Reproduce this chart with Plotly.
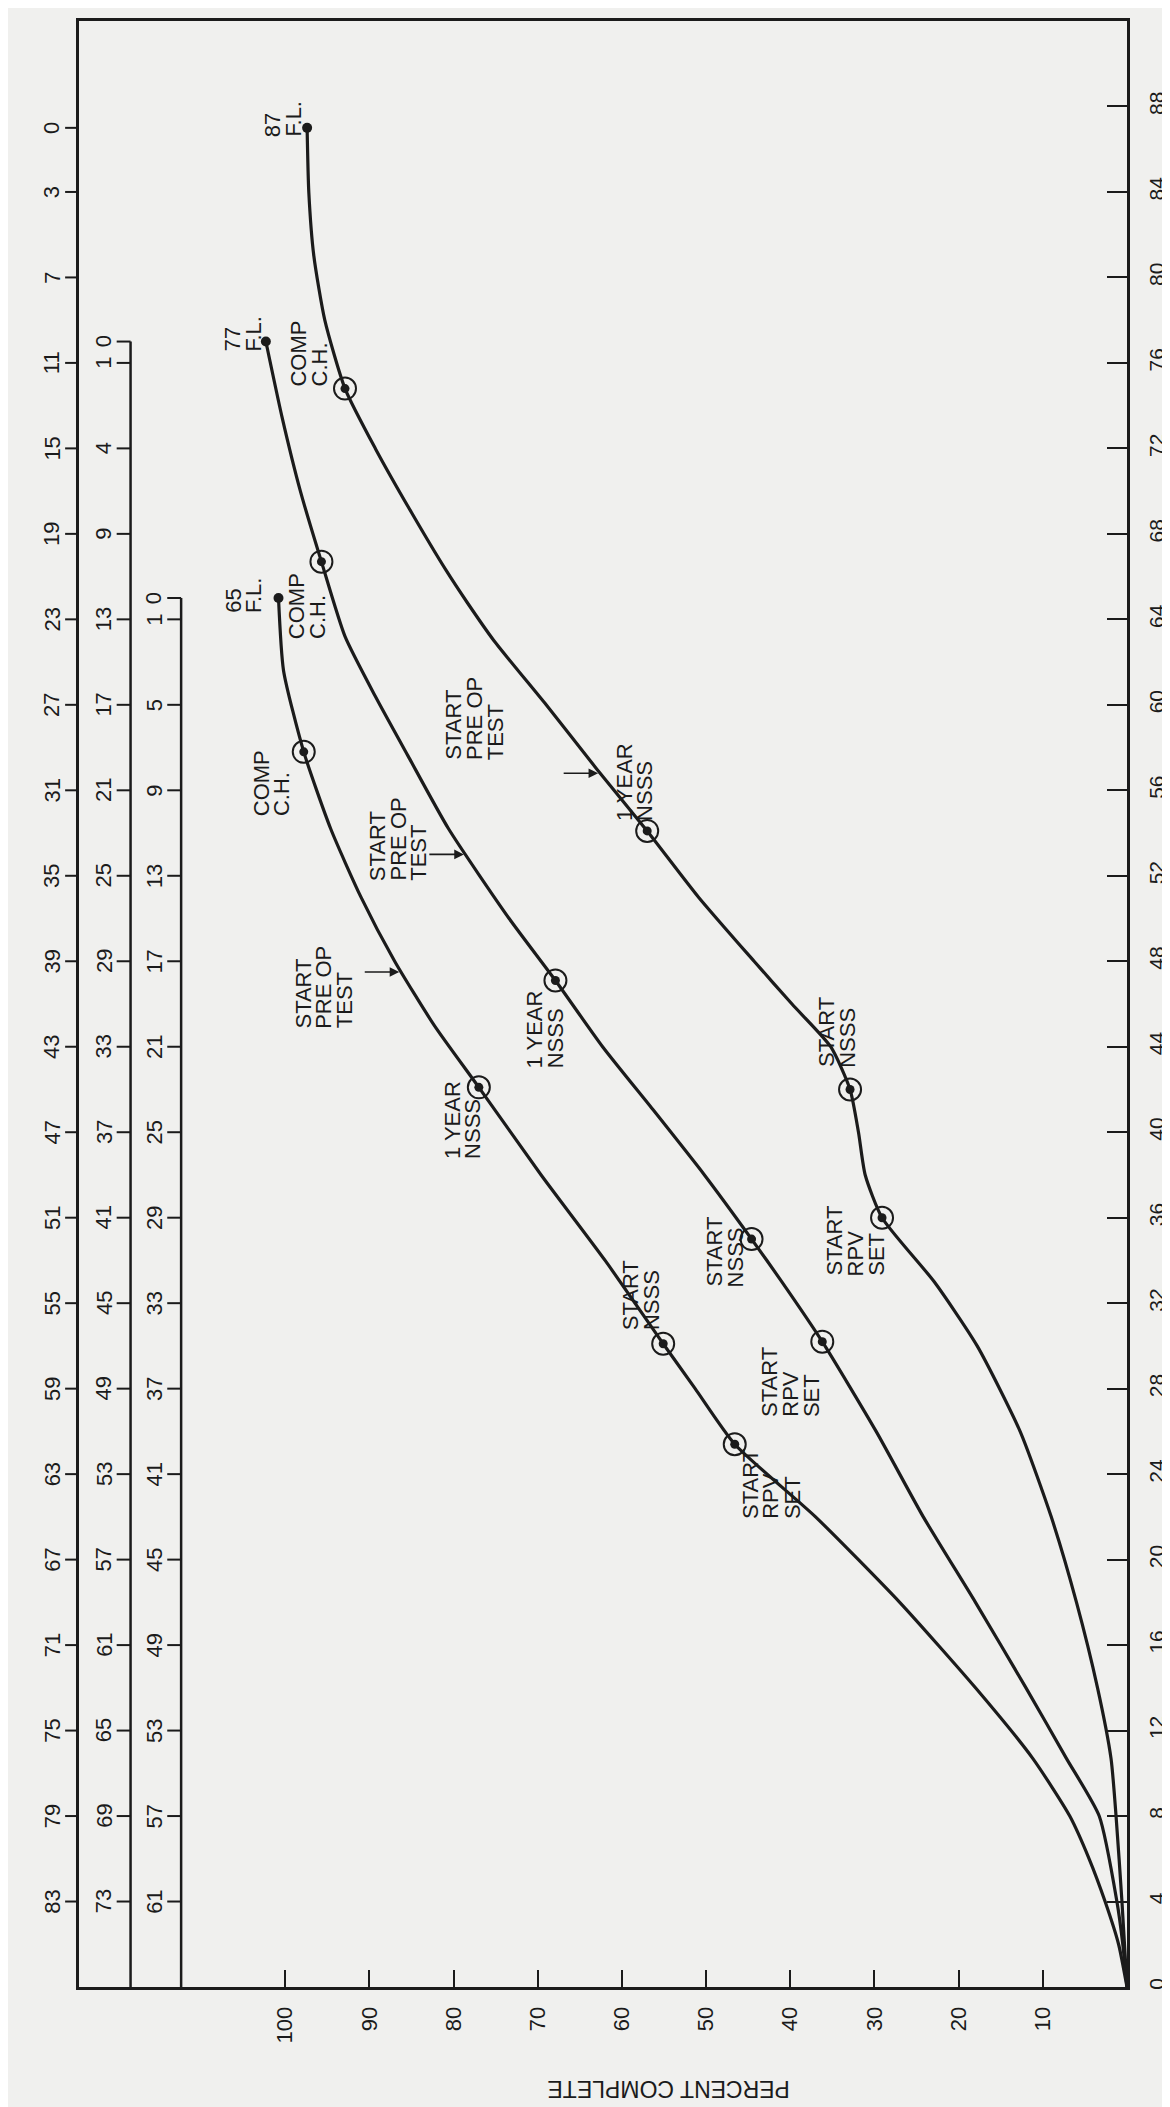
import numpy as np
import plotly.graph_objects as go

# ---------------- data ----------------
month_ticks = list(range(0, 89, 4))
pct_ticks = list(range(10, 101, 10))

# Curve for 65-month fuel load
a_month = [0, 2, 4, 6, 8, 10.7, 14, 18, 22, 25.4, 28, 30.1, 34, 38, 42.1, 45, 48, 51, 54.2, 57.8, 61.6, 65]
a_pct = [0, 1.0, 2.6, 4.5, 6.8, 11.2, 18, 27, 37, 46.6, 51.3, 55.1, 62, 69.6, 77, 82.3, 87, 91, 94.6, 97.8, 100.2, 100.8]
# Curve for 77-month fuel load
b_month = [0, 2, 4, 8, 10.7, 14, 18, 22, 26, 30.2, 33, 35, 38, 41, 44, 47.1, 50, 54.2, 57.6, 60.4, 63.2, 66.7, 70, 73.5, 77]
b_pct = [0, 0.5, 1.2, 3.3, 7.2, 12, 18, 24.2, 29.8, 36.2, 41, 44.6, 50.2, 56.2, 62.3, 67.9, 73.4, 80.6, 85.4, 89.3, 92.9, 95.7, 98.2, 100.4, 102.3]
# Curve for 87-month fuel load
c_month = [0, 4, 8, 10.7, 14, 18, 22, 26, 30, 33, 36, 38, 40, 42, 44, 46, 48, 51, 54.1, 57, 60, 63, 64.8, 66.3, 69, 72, 74.8, 78, 81, 84, 87]
c_pct = [0, 0.6, 1.3, 1.9, 3.5, 6, 9, 12.7, 17.8, 22.9, 29.1, 31.1, 31.9, 32.9, 35.2, 39.8, 44.3, 50.9, 57, 63, 69, 75.2, 78.4, 80.9, 85, 89.3, 92.9, 95.3, 96.6, 97.2, 97.4]

# milestones (months): RPV set, start NSSS, 1 year NSSS, comp C.H.
a_miles = [25.4, 30.1, 42.1, 57.8]
b_miles = [30.2, 35.0, 47.1, 66.7]
c_miles = [36.0, 42.0, 54.1, 74.8]
# "start pre-op test" arrow months
arrow_months = [47.5, 53.0, 56.8]

# months-to-fuel-load scales (left side)
col1_months = list(range(4, 85, 4)) + [87]
col1_labels = [str(87 - m) for m in range(4, 85, 4)] + ["0"]
col2_months = list(range(4, 73, 4)) + [76, 77]
col2_labels = [str(77 - m) for m in range(4, 69, 4)] + ["4", "1", "0"]
col3_months = list(range(4, 61, 4)) + [64, 65]
col3_labels = [str(65 - m) for m in range(4, 61, 4)] + ["1", "0"]

# ---------------- layout geometry ----------------
W, H = 1170, 2107
L, R, T, B = 71, 42, 10, 128
XMAX, YMAX = 124.5, 92.0
PW, PH = W - L - R, H - T - B


def px_x(xpx):
    return XMAX * (L + PW - xpx) / PW


def px_y(ypx):
    return YMAX * (T + PH - ypx) / PH


def paper_x(xpx):
    return (xpx - L) / PW


def paper_y(ypx):
    return (T + PH - ypx) / PH


INK = "#1b1b1b"
FONT = "Liberation Sans, Arial, sans-serif"

fig = go.Figure()

for mo, pc in [(a_month, a_pct), (b_month, b_pct), (c_month, c_pct)]:
    fig.add_trace(go.Scatter(x=pc, y=mo, mode="lines",
                             line=dict(color=INK, width=3.2, shape="spline", smoothing=0.6),
                             hoverinfo="skip", showlegend=False))
    fig.add_trace(go.Scatter(x=[pc[-1]], y=[mo[-1]], mode="markers",
                             marker=dict(color=INK, size=10), showlegend=False))

for mi, mo, pc in [(a_miles, a_month, a_pct), (b_miles, b_month, b_pct), (c_miles, c_month, c_pct)]:
    px = np.interp(mi, mo, pc)
    fig.add_trace(go.Scatter(x=px, y=mi, mode="markers",
                             marker=dict(symbol="circle-open", color=INK, size=22, line=dict(width=2, color=INK)),
                             showlegend=False))
    fig.add_trace(go.Scatter(x=px, y=mi, mode="markers",
                             marker=dict(color=INK, size=9), showlegend=False))

annotations = []


def label(lines, xpx, ybottom, pitch=21, size=22):
    for i, t in enumerate(lines):
        annotations.append(dict(text=t, x=px_x(xpx + i * pitch), y=px_y(ybottom), xref="x", yref="y",
                                showarrow=False, textangle=-90, xanchor="center", yanchor="bottom",
                                font=dict(size=size, color=INK, family=FONT)))


# curve A labels
label(["65", "F.L."], 226, 605)
label(["COMP", "C.H."], 255, 808)
label(["START", "PRE OP", "TEST"], 297, 1021)
label(["1 YEAR", "NSSS"], 447, 1152)
label(["START", "NSSS"], 627, 1323)
label(["START", "RPV", "SET"], 748, 1512)
# curve B labels
label(["77", "F.L."], 226, 343)
label(["COMP", "C.H."], 290, 631)
label(["START", "PRE OP", "TEST"], 372, 873)
label(["1 YEAR", "NSSS"], 530, 1061)
label(["START", "NSSS"], 712, 1280)
label(["START", "RPV", "SET"], 768, 1410)
# curve C labels
label(["87", "F.L."], 266, 128)
label(["COMP", "C.H."], 292, 378)
label(["START", "PRE OP", "TEST"], 449, 752)
label(["1 YEAR", "NSSS"], 621, 813)
label(["START", "NSSS"], 825, 1060)
label(["START", "RPV", "SET"], 833, 1269)

# arrows pointing at "start pre-op test"
for am, (mo, pc) in zip(arrow_months, [(a_month, a_pct), (b_month, b_pct), (c_month, c_pct)]):
    annotations.append(dict(text="", x=float(np.interp(am, mo, pc)), y=am, xref="x", yref="y",
                            showarrow=True, ax=-38, ay=0, arrowhead=2, arrowsize=1.2,
                            arrowwidth=1.6, arrowcolor=INK, standoff=2))

# left scales
shapes = []
cols = [(71, col1_months, col1_labels, None), (123, col2_months, col2_labels, 77), (174, col3_months, col3_labels, 65)]
for xline, mos, labs, top in cols:
    if top is not None:
        shapes.append(dict(type="line", xref="paper", yref="paper", x0=paper_x(xline), x1=paper_x(xline),
                           y0=0, y1=top / YMAX, line=dict(color=INK, width=2.5)))
    for mo, lb in zip(mos, labs):
        shapes.append(dict(type="line", xref="paper", yref="paper", x0=paper_x(xline - 14), x1=paper_x(xline),
                           y0=mo / YMAX, y1=mo / YMAX, line=dict(color=INK, width=2)))
        annotations.append(dict(text=lb, xref="paper", yref="paper", x=paper_x(xline - 27), y=mo / YMAX,
                                showarrow=False, textangle=-90, xanchor="center", yanchor="middle",
                                font=dict(size=22, color=INK, family=FONT)))

annotations.append(dict(text="PERCENT COMPLETE", xref="paper", yref="paper", x=paper_x(666), y=paper_y(2081),
                        showarrow=False, textangle=180, xanchor="center", yanchor="middle",
                        font=dict(size=23, color=INK, family=FONT)))

fig.update_layout(
    width=W, height=H,
    margin=dict(l=L, r=R, t=T, b=B, pad=0),
    paper_bgcolor="#f0f0ee", plot_bgcolor="#f0f0ee",
    showlegend=False,
    annotations=annotations, shapes=shapes,
    xaxis=dict(range=[XMAX, 0], tickvals=pct_ticks, ticktext=[str(v) for v in pct_ticks],
               ticks="inside", ticklen=17, tickwidth=2, tickcolor=INK, tickangle=-90,
               tickfont=dict(size=22, color=INK, family=FONT), ticklabelstandoff=8,
               showline=True, linecolor=INK, linewidth=3, mirror=True,
               showgrid=False, zeroline=False),
    yaxis=dict(range=[0, YMAX], side="right", tickvals=month_ticks, ticktext=[str(v) for v in month_ticks],
               ticks="inside", ticklen=20, tickwidth=2, tickcolor=INK, tickangle=-90,
               tickfont=dict(size=21, color=INK, family=FONT), ticklabelstandoff=9,
               showline=True, linecolor=INK, linewidth=3, mirror=True,
               showgrid=False, zeroline=False),
)

fig.write_html("out.html")
